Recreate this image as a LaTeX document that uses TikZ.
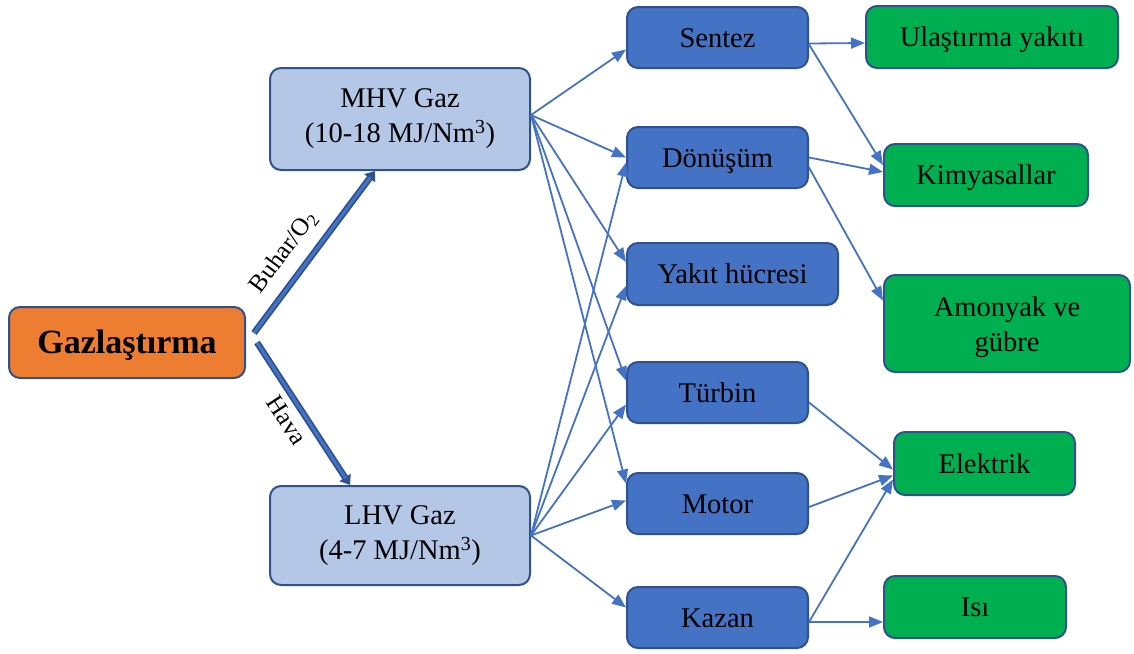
\documentclass[tikz,border=0pt]{standalone}
\usepackage{fontspec}
\setmainfont{Liberation Serif}
\usetikzlibrary{arrows.meta}
\definecolor{edgeblue}{HTML}{2F528F}
\definecolor{midblue}{HTML}{4472C4}
\definecolor{lightblue}{HTML}{B4C7E7}
\definecolor{orangefill}{HTML}{ED7D31}
\definecolor{greenfill}{HTML}{00B050}
\begin{document}
\begin{tikzpicture}[x=1pt,y=-1pt,
  box/.style={draw=edgeblue, line width=2pt, rounded corners=11pt, inner sep=0pt,
    align=center, text=black, font=\fontsize{28.5}{35}\selectfont},
  oneline/.style={text height=25pt, text depth=6pt},
  srcbox/.style={box, fill=orangefill, font=\fontsize{34}{40}\selectfont\bfseries,
    text height=29pt, text depth=6.5pt},
  gasbox/.style={box, fill=lightblue},
  procbox/.style={box, oneline, fill=midblue},
  outbox/.style={box, fill=greenfill},
  link/.style={draw=midblue, line width=1.8pt, -{Triangle[length=14pt,width=11pt]}},
  bigoutline/.style={draw=edgeblue, line width=6.5pt, line cap=butt, -{Triangle[length=9pt,width=13pt]}},
  bigcore/.style={draw=midblue, line width=3pt, line cap=butt},
  edgelabel/.style={font=\fontsize{25}{28}\selectfont, text=black, inner sep=3pt}
]
\useasboundingbox (0,0) rectangle (1134,653);

% source
\node[srcbox, minimum width=236pt, minimum height=71pt] (gaz) at (127,342.5) {Gazlaştırma};

% gas products
\node[gasbox, minimum width=260pt, minimum height=102pt] (mhv) at (400,119) {MHV Gaz\\(10-18 MJ/Nm\textsuperscript{3})};
\node[gasbox, minimum width=260pt, minimum height=99pt] (lhv) at (400,535.5) {LHV Gaz\\(4-7 MJ/Nm\textsuperscript{3})};

% processes
\node[procbox, minimum width=181pt, minimum height=61pt] (sentez) at (717.5,37.5) {Sentez};
\node[procbox, minimum width=181pt, minimum height=61pt] (donusum) at (717.5,157.5) {Dönüşüm};
\node[procbox, minimum width=211pt, minimum height=62pt] (yakit) at (732.5,274) {Yakıt hücresi};
\node[procbox, minimum width=181pt, minimum height=61pt] (turbin) at (717.5,392.5) {Türbin};
\node[procbox, minimum width=181pt, minimum height=61pt] (motor) at (717.5,503.5) {Motor};
\node[procbox, minimum width=181pt, minimum height=61pt] (kazan) at (717.5,617.5) {Kazan};

% end uses
\node[outbox, oneline, minimum width=252pt, minimum height=62pt] (ulastirma) at (992,37) {Ulaştırma yakıtı};
\node[outbox, oneline, minimum width=204pt, minimum height=62pt] (kimya) at (986,175) {Kimyasallar};
\node[outbox, minimum width=246pt, minimum height=97pt] (amonyak) at (1007,323.5) {\rule{0pt}{27pt}Amonyak ve\\gübre};
\node[outbox, oneline, minimum width=181pt, minimum height=63pt] (elektrik) at (984.5,463.5) {Elektrik};
\node[outbox, oneline, minimum width=182pt, minimum height=62pt] (isi) at (975,607) {Isı};

% gasification routes
\draw[bigoutline] ([shift={(8pt,9.5pt)}]gaz.east) -- ([xshift=-25pt]mhv.south)
  node[edgelabel, pos=0.41, sloped, above=8pt] {Buhar/O\textsubscript{2}};
\draw[bigcore] ([shift={(8pt,9.5pt)}]gaz.east) -- ([shift={(-29.8pt,-6.4pt)}]mhv.south);
\draw[bigoutline] ([xshift=11pt]gaz.east) -- ([xshift=-50pt]lhv.north)
  node[edgelabel, pos=0.48, sloped, below=3pt] {Hava};
\draw[bigcore] ([xshift=11pt]gaz.east) -- ([shift={(-54.4pt,6.7pt)}]lhv.north);

% MHV gas uses
\draw[link] ([yshift=4pt]mhv.east) -- ([yshift=-12pt]sentez.west);
\draw[link] ([yshift=4pt]mhv.east) -- (donusum.west);
\draw[link] ([yshift=4pt]mhv.east) -- ([yshift=12pt]yakit.west);
\draw[link] ([yshift=4pt]mhv.east) -- ([yshift=12pt]turbin.west);
\draw[link] ([yshift=4pt]mhv.east) -- ([yshift=20pt]motor.west);

% LHV gas uses
\draw[link] (lhv.east) -- ([yshift=-5pt]donusum.west);
\draw[link] (lhv.east) -- ([yshift=-12pt]yakit.west);
\draw[link] (lhv.east) -- ([yshift=-12pt]turbin.west);
\draw[link] (lhv.east) -- ([yshift=3pt]motor.west);
\draw[link] (lhv.east) -- ([yshift=10pt]kazan.west);

% products
\draw[link] ([yshift=-6pt]sentez.east) -- ([yshift=-6pt]ulastirma.west);
\draw[link] ([yshift=-7pt]sentez.east) -- ([yshift=10pt]kimya.west);
\draw[link] (donusum.east) -- ([yshift=3pt]kimya.west);
\draw[link] ([yshift=-10pt]donusum.east) -- ([yshift=23pt]amonyak.west);
\draw[link] ([yshift=-10pt]turbin.east) -- ([yshift=-6pt]elektrik.west);
\draw[link] ([yshift=-3.5pt]motor.east) -- ([yshift=-12pt]elektrik.west);
\draw[link] ([yshift=-4.5pt]kazan.east) -- ([yshift=-16pt]elektrik.west);
\draw[link] ([yshift=-4.5pt]kazan.east) -- ([yshift=-15pt]isi.west);
\end{tikzpicture}
\end{document}
